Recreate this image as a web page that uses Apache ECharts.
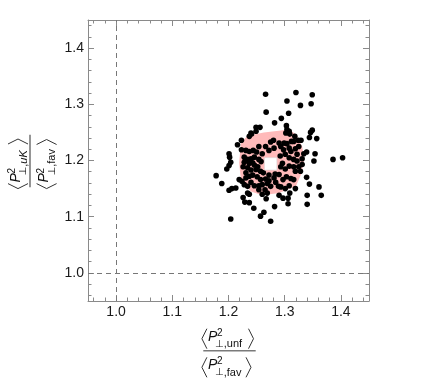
<!DOCTYPE html>
<html>
<head>
<meta charset="utf-8">
<script src="https://cdn.jsdelivr.net/npm/echarts@6/dist/echarts.min.js"></script>
<style>
    html, body { margin: 0; padding: 0; background: #fff; }
    #chart { width: 436px; height: 384px; }
</style>
</head>
<body>
<div id="chart"></div>
<script>
// tick values (major labelled, minor unlabelled)
const majorTicks = [1.0, 1.1, 1.2, 1.3, 1.4];
const minorTicks = [0.96, 0.98, 1.02, 1.04, 1.06, 1.08, 1.12, 1.14, 1.16, 1.18,
    1.22, 1.24, 1.26, 1.28, 1.32, 1.34, 1.36, 1.38, 1.42, 1.44];

// replica points (x = unf/fav, y = uK/fav)
const replicaPoints = [
    [1.266, 1.318], [1.320, 1.321], [1.349, 1.317], [1.304, 1.306], [1.328, 1.298], [1.347, 1.301],
    [1.267, 1.286], [1.294, 1.275], [1.307, 1.284], [1.282, 1.267], [1.303, 1.262], [1.249, 1.259],
    [1.256, 1.259], [1.349, 1.254], [1.346, 1.250], [1.357, 1.239], [1.344, 1.241], [1.223, 1.236],
    [1.216, 1.228], [1.354, 1.212], [1.352, 1.199], [1.386, 1.202], [1.403, 1.205], [1.201, 1.212],
    [1.202, 1.206], [1.204, 1.197], [1.201, 1.191], [1.197, 1.185], [1.178, 1.173], [1.188, 1.159],
    [1.201, 1.147], [1.206, 1.150], [1.213, 1.151], [1.339, 1.170], [1.344, 1.158], [1.361, 1.153],
    [1.365, 1.138], [1.340, 1.138], [1.340, 1.122], [1.226, 1.134], [1.229, 1.126], [1.237, 1.125],
    [1.245, 1.115], [1.257, 1.101], [1.263, 1.108], [1.282, 1.118], [1.275, 1.092], [1.204, 1.096],
    [1.306, 1.123], [1.309, 1.142], [1.297, 1.133], [1.306, 1.133], [1.267, 1.132], [1.319, 1.150],
    [1.304, 1.255], [1.308, 1.252], [1.302, 1.249], [1.309, 1.247], [1.240, 1.249], [1.249, 1.252],
    [1.237, 1.243], [1.241, 1.247], [1.316, 1.234], [1.324, 1.236], [1.329, 1.236], [1.318, 1.243],
    [1.275, 1.233], [1.280, 1.236], [1.290, 1.231], [1.299, 1.231], [1.304, 1.230], [1.312, 1.234],
    [1.223, 1.219], [1.231, 1.218], [1.237, 1.216], [1.244, 1.218], [1.250, 1.215], [1.260, 1.212],
    [1.272, 1.218], [1.281, 1.222], [1.293, 1.225], [1.298, 1.219], [1.308, 1.222], [1.319, 1.221],
    [1.334, 1.212], [1.339, 1.215], [1.325, 1.225], [1.228, 1.206], [1.234, 1.202], [1.240, 1.203],
    [1.246, 1.206], [1.254, 1.202], [1.258, 1.198], [1.292, 1.208], [1.301, 1.211], [1.308, 1.205],
    [1.316, 1.202], [1.322, 1.199], [1.331, 1.203], [1.228, 1.197], [1.237, 1.195], [1.246, 1.192],
    [1.252, 1.189], [1.226, 1.189], [1.234, 1.187], [1.240, 1.183], [1.249, 1.184], [1.257, 1.181],
    [1.262, 1.178], [1.272, 1.174], [1.283, 1.176], [1.293, 1.189], [1.296, 1.195], [1.301, 1.185],
    [1.308, 1.190], [1.316, 1.189], [1.325, 1.189], [1.331, 1.193], [1.319, 1.181], [1.328, 1.181],
    [1.219, 1.166], [1.224, 1.163], [1.231, 1.169], [1.237, 1.172], [1.243, 1.174], [1.251, 1.171],
    [1.257, 1.166], [1.266, 1.167], [1.272, 1.164], [1.281, 1.169], [1.290, 1.175], [1.297, 1.166],
    [1.303, 1.171], [1.311, 1.168], [1.316, 1.166], [1.240, 1.161], [1.228, 1.157], [1.234, 1.154],
    [1.246, 1.155], [1.254, 1.155], [1.260, 1.157], [1.269, 1.159], [1.275, 1.154], [1.289, 1.154],
    [1.293, 1.153], [1.301, 1.150], [1.254, 1.148], [1.234, 1.142], [1.237, 1.140], [1.260, 1.140],
    [1.269, 1.142], [1.290, 1.138], [1.266, 1.225], [1.254, 1.225], [1.311, 1.216], [1.243, 1.196],
    [1.284, 1.161], [1.322, 1.211], [1.231, 1.178], [1.265, 1.148], [1.308, 1.155]
];

// central value (white square)
const centralValue = [1.275, 1.194];

// shaded region outline
const regionX = [1.222, 1.234, 1.263, 1.308, 1.321, 1.331, 1.335, 1.329, 1.320, 1.290, 1.260, 1.240, 1.222, 1.219];
const regionY = [1.231, 1.244, 1.250, 1.255, 1.246, 1.225, 1.202, 1.175, 1.154, 1.142, 1.138, 1.145, 1.166, 1.196];

const FONT = 'Liberation Sans, Arial, sans-serif';
const frameColor = '#8a8a8a';

function valueAxis(position, ticks, len, isMain) {
    return {
        type: 'value',
        position: position,
        min: 0.95,
        max: 1.45,
        axisLine: {show: isMain, lineStyle: {color: frameColor, width: 1}},
        axisTick: {
            show: true, inside: true, length: len, customValues: ticks,
            lineStyle: {color: frameColor, width: 1}
        },
        axisLabel: isMain && (position === 'bottom' || position === 'left') ? {
            show: true, customValues: majorTicks, margin: 4,
            fontSize: 14, fontFamily: FONT, color: '#1a1a1a',
            formatter: v => v.toFixed(1)
        } : {show: false},
        splitLine: {show: false}
    };
}

// one bracketed <P^2_sub> row of the fraction
function bracketRow(yc, sub, rb) {
    return [
        {type: 'polyline', shape: {points: [[-22.6, yc - 8], [-27.6, yc + 2], [-22.6, yc + 12]]},
            style: {stroke: '#333', lineWidth: 1, fill: null}},
        {type: 'text', x: -21.5, y: yc,
            style: {text: 'P', fontSize: 14, fontStyle: 'italic', fontFamily: FONT, fill: '#111', verticalAlign: 'middle'}},
        {type: 'text', x: -12.6, y: yc - 3.8,
            style: {text: '2', fontSize: 10, fontFamily: FONT, fill: '#111', verticalAlign: 'middle'}},
        {type: 'text', x: -14.5, y: yc + 7.5,
            style: {
                text: sub, fontSize: 11, fontFamily: FONT, fill: '#111', verticalAlign: 'middle',
                rich: {
                    s: {fontSize: 10, fontFamily: 'DejaVu Sans', fill: '#111'},
                    r: {fontSize: 11, fontFamily: FONT, fill: '#111'},
                    i: {fontSize: 11, fontFamily: FONT, fontStyle: 'italic', fill: '#111'}
                }
            }},
        {type: 'polyline', shape: {points: [[rb, yc - 8], [rb + 5, yc + 2], [rb, yc + 12]]},
            style: {stroke: '#333', lineWidth: 1, fill: null}}
    ];
}

function fraction(x, y, rotation, numSub, numRb, denSub, denRb) {
    return {
        type: 'group', x: x, y: y, rotation: rotation, silent: true,
        children: [
            {type: 'line', shape: {x1: -26.2, y1: 0, x2: 26.2, y2: 0}, style: {stroke: '#7a7a7a', lineWidth: 1.6}},
            ...bracketRow(-14, numSub, numRb),
            ...bracketRow(14.6, denSub, denRb)
        ]
    };
}

const chart = echarts.init(document.getElementById('chart'), null, {renderer: 'canvas'});

const option = {
    animation: false,
    textStyle: {fontFamily: FONT},
    grid: {left: 88, right: 67, top: 20, bottom: 83, outerBoundsMode: 'none'},
    xAxis: [
        valueAxis('bottom', majorTicks, 6, true),
        valueAxis('bottom', minorTicks, 3.5, false),
        valueAxis('top', majorTicks, 6, true),
        valueAxis('top', minorTicks, 3.5, false)
    ],
    yAxis: [
        valueAxis('left', majorTicks, 6, true),
        valueAxis('left', minorTicks, 3.5, false),
        valueAxis('right', majorTicks, 6, true),
        valueAxis('right', minorTicks, 3.5, false)
    ],
    series: [
        {
            // shaded region
            type: 'custom',
            xAxisIndex: 0, yAxisIndex: 0,
            silent: true,
            z: 1,
            data: [[1.275, 1.194]],
            renderItem: function (params, api) {
                const pts = regionX.map((x, i) => api.coord([x, regionY[i]]));
                return {type: 'polygon', shape: {points: pts}, style: {fill: '#ffbaba'}};
            }
        },
        {
            type: 'scatter',
            xAxisIndex: 0, yAxisIndex: 0,
            z: 3,
            symbol: 'circle',
            symbolSize: 5.6,
            itemStyle: {color: '#000', opacity: 1},
            data: replicaPoints,
            markLine: {
                silent: true,
                symbol: 'none',
                label: {show: false},
                lineStyle: {color: '#777', type: [5, 4], width: 1},
                data: [{xAxis: 1.0}, {yAxis: 1.0}]
            }
        },
        {
            // central value as a white square, drawn on top of the points
            type: 'custom',
            xAxisIndex: 0, yAxisIndex: 0,
            silent: true,
            z: 10,
            data: [centralValue],
            renderItem: function (params, api) {
                const c = api.coord([api.value(0), api.value(1)]);
                return {
                    type: 'rect',
                    shape: {x: c[0] - 6.2, y: c[1] - 6.2, width: 12.4, height: 12.4},
                    style: {fill: '#ffffff', stroke: '#d8d8d8', lineWidth: 0.6}
                };
            }
        }
    ],
    graphic: [
        fraction(229.5, 350.7, 0, '{s|⊥}{r|,unf}', 19, '{s|⊥}{r|,fav}', 16.5),
        fraction(30, 161, Math.PI / 2, '{s|⊥}{r|,}{i|uK}', 17, '{s|⊥}{r|,fav}', 16.5)
    ]
};

chart.setOption(option);
</script>
</body>
</html>
